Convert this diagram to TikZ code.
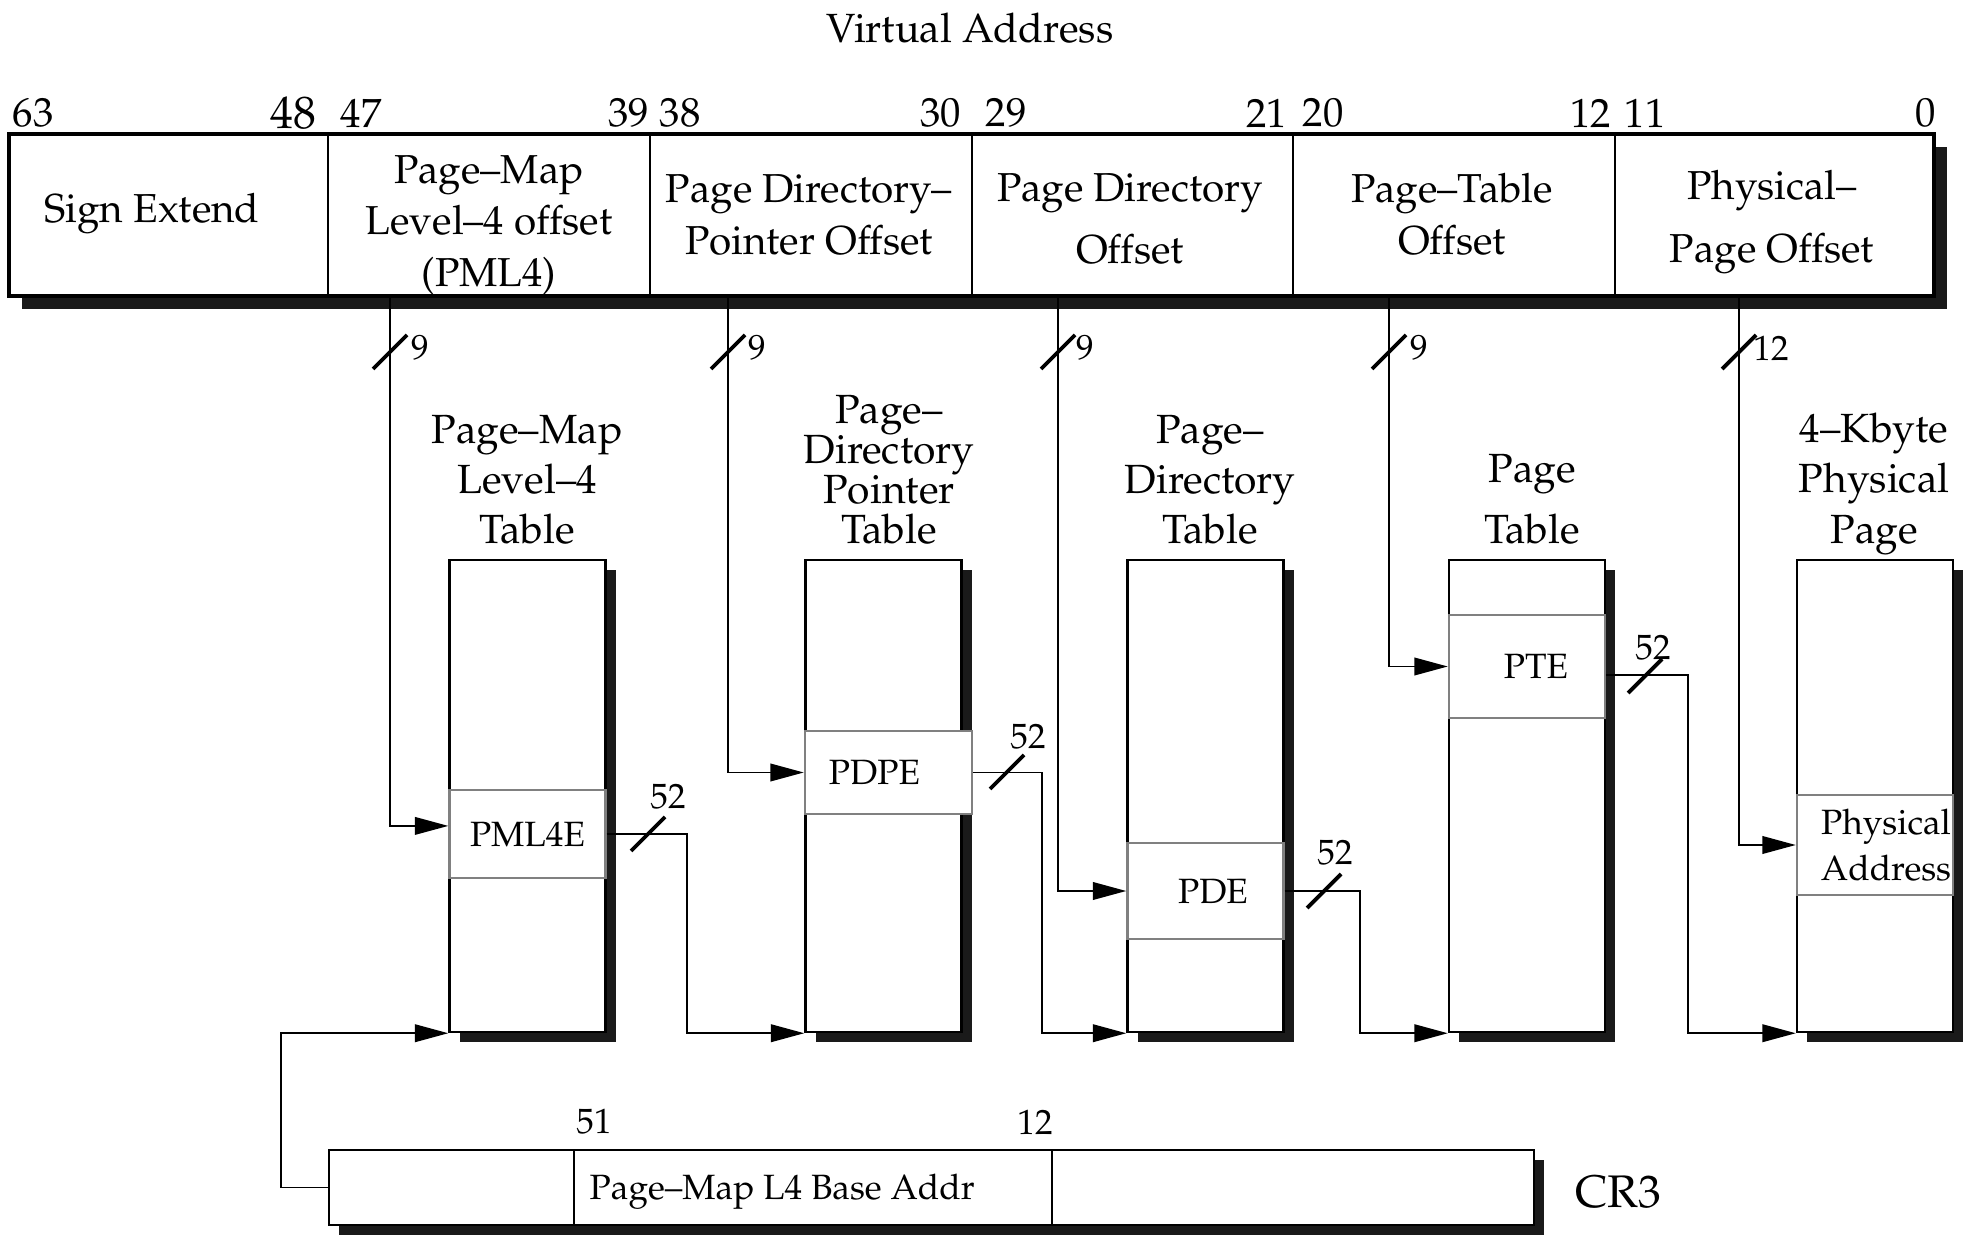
\documentclass[tikz,border=0pt]{standalone}
\usepackage[T1]{fontenc}
\usepackage{mathpazo}
\usepackage{tikz}
\usetikzlibrary{arrows.meta,shadows}
\definecolor{entrygray}{HTML}{808080}
\definecolor{shadowgray}{HTML}{1A1A1A}
\tikzset{
  bigtext/.style={font=\fontsize{11.6}{14.3}\selectfont, align=center, inner sep=0pt},
  fieldtext/.style={font=\fontsize{11.5}{14.7}\selectfont, align=center, inner sep=0pt},
  smalltext/.style={font=\fontsize{10}{13.4}\selectfont, align=center, inner sep=0pt},
  regbox/.style={draw, fill=white, inner sep=0pt, drop shadow={shadow xshift=#1, shadow yshift=-#1, fill=shadowgray, opacity=1}},
  regbox/.default=1mm,
  tblbox/.style={draw, line width=0.7pt, fill=white, inner sep=0pt, minimum width=15.6mm, minimum height=47.2mm, drop shadow={shadow xshift=1mm, shadow yshift=-1mm, fill=shadowgray, opacity=1}},
  entrybox/.style={smalltext, draw=entrygray, line width=0.7pt, fill=white, minimum width=15.6mm},
  conn/.style={line width=0.55pt},
  arr/.style={conn, -{Triangle[length=9.5pt,width=5pt]}},
  busmark/.style={line width=1.1pt},
  divider/.style={line width=0.5pt}
}

\begin{document}
\begin{tikzpicture}[x=0.1mm,y=-0.1mm]
\useasboundingbox (0,0) rectangle (1964,1235);

\node[bigtext] (vatitle) at (970,28) {Virtual Address};
\node[regbox=1.3mm, line width=0.9pt, minimum width=192.5mm, minimum height=16.2mm] (vabar) at (971.5,215) {};
\draw[divider] (328,134) -- (328,296);
\draw[divider] (650,134) -- (650,296);
\draw[divider] (972,134) -- (972,296);
\draw[divider] (1293,134) -- (1293,296);
\draw[divider] (1615,134) -- (1615,296);

\node[bigtext, anchor=west] (b63) at (12,113) {63};
\node[bigtext, anchor=east, font=\fontsize{13}{15}\selectfont] (b48) at (317,113) {48};
\node[bigtext, anchor=west] (b47) at (340,113) {47};
\node[bigtext, anchor=east] (b39) at (650,113) {39};
\node[bigtext, anchor=west] (b38) at (659,113) {38};
\node[bigtext, anchor=east] (b30) at (962,113) {30};
\node[bigtext, anchor=west] (b29) at (985,113) {29};
\node[bigtext, anchor=east] (b21) at (1288,113) {21};
\node[bigtext, anchor=west] (b20) at (1302,113) {20};
\node[bigtext, anchor=east] (b12) at (1612,113) {12};
\node[bigtext, anchor=west] (b11) at (1624,113) {11};
\node[bigtext, anchor=east] (b0) at (1937,113) {0};

\node[fieldtext] (sgnext) at (152,214) {Sign Extend};
\node[fieldtext] (pml4off) at (489,225) {Page--Map\\Level--4 offset\\(PML4)};
\node[fieldtext] (pdpoff) at (809,215) {Page Directory--\\Pointer Offset};
\node[fieldtext] (pdoff) at (1130,219) {Page Directory\\[3pt]Offset};
\node[fieldtext] (ptoff) at (1452,214) {Page--Table\\Offset};
\node[fieldtext] (pgoff) at (1772,222) {Physical--\\[3pt]Page Offset};

\coordinate (pml4src) at (390,296);
\coordinate (pdpsrc) at (728,296);
\coordinate (pdsrc) at (1058,296);
\coordinate (ptsrc) at (1389,296);
\coordinate (pgsrc) at (1739,296);

\node[tblbox] (pml4t) at (527.5,796) {};
\node[tblbox] (pdpt) at (883.5,796) {};
\node[tblbox] (pdt) at (1205.5,796) {};
\node[tblbox] (ptt) at (1527,796) {};
\node[tblbox] (physpg) at (1875,796) {};

\node[bigtext] (pml4ttl) at (527,480) {Page--Map\\Level--4\\Table};
\node[bigtext, font=\fontsize{11.6}{11.4}\selectfont] (pdpttl) at (889,470) {Page--\\Directory\\Pointer\\Table};
\node[bigtext] (pdttl) at (1210,480) {Page--\\Directory\\Table};
\node[bigtext] (ptttl) at (1532,499) {Page\\[3pt]Table};
\node[bigtext] (physttl) at (1874,484) {4--Kbyte\\Physical\\Page};

\node[entrybox, minimum height=8.8mm] (pml4e) at (527.5,834) {PML4E};
\node[entrybox, minimum width=16.7mm, minimum height=8.3mm] (pdpe) at (888.5,772.5) {PDPE\hspace*{2.8mm}};
\node[entrybox, minimum height=9.6mm] (pde) at (1205.5,891) {\hspace*{1.5mm}PDE};
\node[entrybox, minimum height=10.3mm] (pte) at (1527,666.5) {\hspace*{1.8mm}PTE};
\node[entrybox, minimum height=10mm] (physaddr) at (1875,845) {\hspace*{2.2mm}Physical\\[-0.5pt]\hspace*{2.2mm}Address};

\draw[arr] (pml4src) |- ([yshift=2.3pt]pml4e.west);
\draw[arr] (pdpsrc) |- (pdpe.west);
\draw[arr] (pdsrc) |- (pde.west);
\draw[arr] (ptsrc) |- (pte.west);
\draw[arr] (pgsrc) |- (physaddr.west);

\draw[busmark] (390,352) +(-17,17) -- +(17,-17);
\draw[busmark] (728,352) +(-17,17) -- +(17,-17);
\draw[busmark] (1058,352) +(-17,17) -- +(17,-17);
\draw[busmark] (1389,352) +(-17,17) -- +(17,-17);
\draw[busmark] (1739,352) +(-17,17) -- +(17,-17);
\node[smalltext] (w1) at (420,348) {9};
\node[smalltext] (w2) at (757,348) {9};
\node[smalltext] (w3) at (1085,348) {9};
\node[smalltext] (w4) at (1419,348) {9};
\node[smalltext] (w5) at (1771,348) {12};

\draw[arr] (pml4e.east) -- ++(80,0) |- (pdpt.south west);
\draw[arr] (pdpe.east) -- ++(69,0) |- (pdt.south west);
\draw[arr] (pde.east) -- ++(75,0) |- (ptt.south west);
\draw[arr] ([yshift=-2.5pt]pte.east) -- ++(82,0) |- (physpg.south west);

\draw[busmark] (648,834) +(-17,17) -- +(17,-17);
\draw[busmark] (1007,772) +(-17,17) -- +(17,-17);
\draw[busmark] (1324,891) +(-17,17) -- +(17,-17);
\draw[busmark] (1645,676) +(-17,17) -- +(17,-17);
\node[smalltext] (a1) at (668,797) {52};
\node[smalltext] (a2) at (1028,737) {52};
\node[smalltext] (a3) at (1335,853) {52};
\node[smalltext] (a4) at (1653,648) {52};

\node[regbox, line width=0.7pt, minimum width=120.5mm, minimum height=7.5mm] (cr3) at (931.5,1187.5) {};
\draw[divider] (574,1150) -- (574,1225);
\draw[divider] (1052,1150) -- (1052,1225);
\node[smalltext] (c51) at (594,1122) {51};
\node[smalltext] (c12) at (1035,1122) {12};
\node[smalltext, anchor=west] (cr3txt) at (589,1192) {Page--Map L4 Base Addr};
\node[bigtext, font=\fontsize{13}{15}\selectfont] (cr3lbl) at (1618,1192) {CR3};
\draw[arr] (cr3.west) -- ++(-47,0) |- (pml4t.south west);
\end{tikzpicture}
\end{document}
